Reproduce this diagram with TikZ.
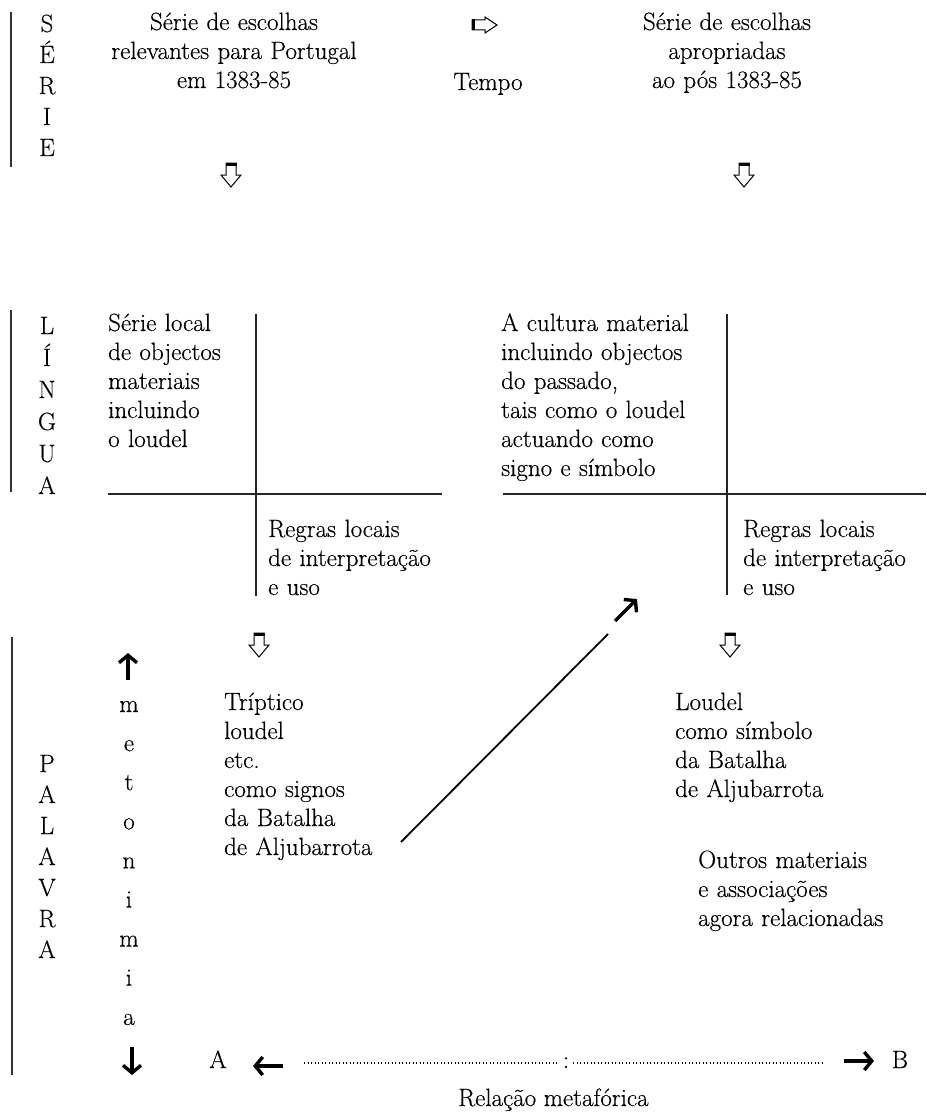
\documentclass[tikz,border=0pt]{standalone}
\usepackage{fontspec}
\setmainfont{Latin Modern Roman}[FakeBold=0.35]
\usetikzlibrary{arrows.meta}
\begin{document}
\begin{tikzpicture}[x=1pt,y=-1pt,
  txt/.style={inner sep=0pt, font=\fontsize{25}{29}\selectfont},
  blk/.style={txt, text width=#1, align=left, anchor=base west},
  ctr/.style={txt, text width=340pt, align=center, anchor=base},
  col/.style={inner sep=0pt, text width=30pt, align=center, anchor=base, font=\fontsize{25}{#1}\selectfont},
  rule/.style={line width=1.2pt, black!85},
  bar/.style={line width=1.1pt, black!80},
  boldarr/.style={line width=3.4pt, -{Straight Barb[length=7.5pt,width=18pt]}},
  dotline/.style={line width=1.5pt, dash pattern=on 1.4pt off 2.1pt},
  hollowdown/.pic={
    \draw[line width=1pt, fill=white, line join=miter] (-5,0) -- (-5,12) -- (-10,12) -- (0,24) -- (10,12) -- (5,12) -- (5,0) -- cycle;
    \draw[line width=3pt] (-5.5,1.5) -- (5.5,1.5);
  },
  hollowright/.pic={
    \draw[line width=1pt, fill=white, line join=miter] (0,-5) -- (13,-5) -- (13,-8) -- (25,0) -- (13,8) -- (13,5) -- (0,5) -- cycle;
    \draw[line width=3pt] (1.5,-5.5) -- (1.5,5.5);
  }
]
\useasboundingbox (0,0) rectangle (926,1113);

% side bars
\draw[bar] (11,12) -- (11,167);
\draw[bar] (11,310) -- (11,492);
\draw[bar] (12,637) -- (12,1075);

% letter columns
\node[col=31] (serie) at (47,32) {S\\É\\R\\I\\E};
\node[col=32] (lingua) at (47,334) {L\\Í\\N\\G\\U\\A};
\node[col=31] (palavra) at (47,772) {P\\A\\L\\A\\V\\R\\A};
\node[col=39.1] (metonimia) at (129,712) {m\\e\\t\\o\\n\\i\\m\\i\\a};

% top section
\node[ctr] (titleL) at (234,30) {Série de escolhas\\relevantes para Portugal\\em 1383-85};
\node[ctr] (titleR) at (727,30) {Série de escolhas\\apropriadas\\ao pós 1383-85};
\node[txt, anchor=base] (tempo) at (488,90) {Tempo};
\pic at (472,25) {hollowright};
\pic at (231,163) {hollowdown};
\pic at (744,163) {hollowdown};

% middle section
\node[blk=200pt] (serielocal) at (108,331) {Série local\\de objectos\\materiais\\incluindo\\o loudel};
\node[blk=200pt] (regrasL) at (268,537) {Regras locais\\de interpretação\\e uso};
\node[blk=230pt] (cultura) at (501,331) {A cultura material\\incluindo objectos\\do passado,\\tais como o loudel\\actuando como\\signo e símbolo};
\node[blk=200pt] (regrasR) at (743,537) {Regras locais\\de interpretação\\e uso};

\coordinate (vL1) at (256,314); \coordinate (vL2) at (256,596);
\coordinate (hL1) at (108,494); \coordinate (hL2) at (442,494);
\coordinate (vR1) at (727,314); \coordinate (vR2) at (727,595);
\coordinate (hR1) at (503,494); \coordinate (hR2) at (926,494);
\draw[rule] (vL1) -- (vL2);
\draw[rule] (hL1) -- (hL2);
\draw[rule] (vR1) -- (vR2);
\draw[rule] (hR1) -- (hR2);

% bottom section
\pic at (259,633) {hollowdown};
\pic at (730,633) {hollowdown};
\node[blk=220pt] (triptico) at (224,710) {Tríptico\\loudel\\etc.\\como signos\\da Batalha\\de Aljubarrota};
\node[blk=220pt] (loudel) at (675,710) {Loudel\\como símbolo\\da Batalha\\de Aljubarrota};
\node[blk=230pt] (outros) at (698,868) {Outros materiais\\e associações\\agora relacionadas};

\coordinate (g1) at (401,842);
\coordinate (g2) at (608,634);
\draw[line width=1.8pt] (g1) -- (g2);
\coordinate (ne1) at (615,621);
\coordinate (ne2) at (637,599);
\draw[boldarr] (ne1) -- (ne2);

\coordinate (up1) at (128,680); \coordinate (up2) at (128,653);
\draw[boldarr] (up1) -- (up2);
\coordinate (dn1) at (132,1047); \coordinate (dn2) at (132,1075);
\draw[boldarr] (dn1) -- (dn2);

\node[txt, anchor=base] (A) at (218,1068) {A};
\node[txt, anchor=base] (B) at (900,1068) {B};
\coordinate (la1) at (283,1066); \coordinate (la2) at (253,1066);
\draw[boldarr] (la1) -- (la2);
\coordinate (ra1) at (844,1061); \coordinate (ra2) at (874,1061);
\draw[boldarr] (ra1) -- (ra2);

\coordinate (d1) at (304,1063); \coordinate (d2) at (559,1063);
\coordinate (d3) at (573,1063); \coordinate (d4) at (823,1063);
\draw[dotline] (d1) -- (d2);
\draw[dotline] (d3) -- (d4);
\node[txt, anchor=base] (colon) at (566,1068) {:};

\node[txt, anchor=base west] (relacao) at (458,1106) {Relação metafórica};
\end{tikzpicture}
\end{document}
